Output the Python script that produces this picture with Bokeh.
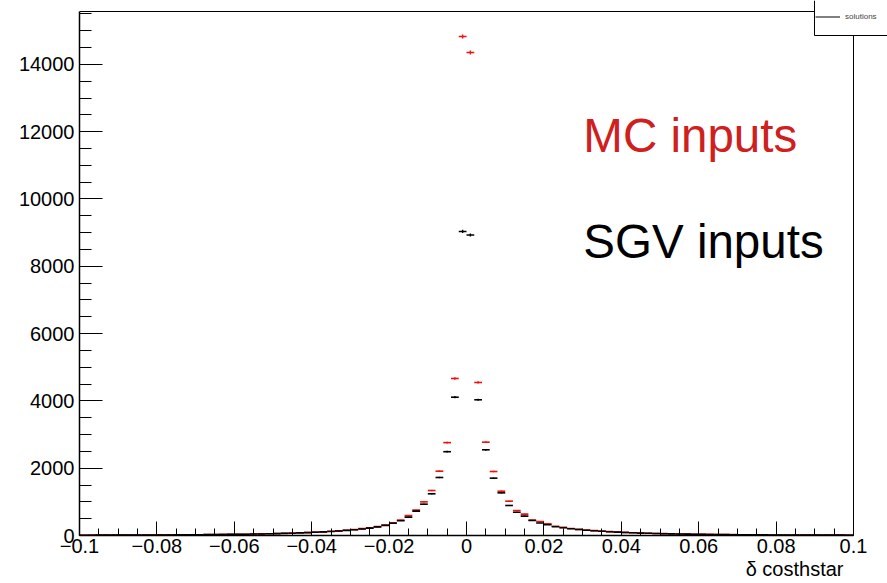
import numpy as np
from bokeh.plotting import figure
from bokeh.models import (Range1d, FixedTicker, Label, Legend, LegendItem,
                          ColumnDataSource, Title)
from bokeh.embed import file_html
from bokeh.resources import INLINE

# Histogram binning: 100 bins of width 0.002 on [-0.1, 0.1]
bin_lo, bin_hi, n_bins = -0.1, 0.1, 100

# Bin contents, left half listed from -0.099 to -0.001, right half from 0.001 to 0.099
mc_left = [9, 11, 10, 11, 13, 12, 13, 14, 15, 15, 18, 18, 20, 21, 24, 24, 27, 28, 32, 33,
           38, 39, 45, 47, 54, 58, 66, 71, 81, 87, 101, 109, 126, 137, 158, 174, 203, 226,
           265, 307, 377, 456, 594, 753, 1000, 1337, 1911, 2760, 4666, 14830]
mc_right = [14355, 4547, 2773, 1902, 1317, 1020, 743, 634, 456, 416, 347, 277, 240, 208,
            183, 162, 146, 129, 116, 103, 93, 83, 75, 68, 61, 55, 50, 46, 42, 38, 35, 32,
            30, 28, 25, 24, 22, 20, 19, 17, 16, 15, 14, 14, 13, 12, 11, 11, 10, 10]
sgv_left = [9, 9, 10, 11, 11, 12, 12, 13, 14, 15, 17, 17, 19, 20, 22, 23, 26, 27, 30, 32,
            36, 38, 43, 46, 51, 57, 63, 69, 78, 85, 97, 107, 121, 134, 152, 170, 195, 220,
            255, 300, 365, 440, 545, 723, 931, 1239, 1724, 2490, 4110, 9035]
sgv_right = [8930, 4033, 2547, 1704, 1268, 892, 693, 575, 445, 372, 320, 262, 232, 201,
             178, 157, 141, 125, 112, 100, 90, 80, 72, 66, 59, 53, 48, 44, 40, 37, 33, 31,
             29, 26, 24, 23, 21, 19, 18, 16, 15, 14, 14, 13, 12, 11, 11, 10, 10, 9]

x_ticks = [-0.1, -0.08, -0.06, -0.04, -0.02, 0.0, 0.02, 0.04, 0.06, 0.08, 0.1]
x_tick_labels = ["\u22120.1", "\u22120.08", "\u22120.06", "\u22120.04", "\u22120.02", "0",
                 "0.02", "0.04", "0.06", "0.08", "0.1"]
y_ticks = [0, 2000, 4000, 6000, 8000, 10000, 12000, 14000]

FONT = "Liberation Sans"
RED = "#f01010"

edges = np.linspace(bin_lo, bin_hi, n_bins + 1)
centers = 0.5 * (edges[:-1] + edges[1:])
mc = np.array(mc_left + mc_right, dtype=float)
sgv = np.array(sgv_left + sgv_right, dtype=float)

y_max = 1.05 * mc.max()

# Canvas geometry (pixels): the drawing box spans 79..853 horizontally and 11..535
# vertically; the plotting area is stretched to the canvas' top and right edges so the
# legend box can hang over the box corner.
W, H = 887, 583
box_left, box_right, box_top, box_bottom = 79, 853, 11, 535
x_end = bin_lo + (bin_hi - bin_lo) * (W - box_left) / (box_right - box_left)
y_end = y_max * box_bottom / (box_bottom - box_top)

# Legend box corner (left edge / bottom edge) in data units
leg_px_left, leg_px_bottom = 814, 35
leg_x = bin_lo + (leg_px_left - box_left) * (bin_hi - bin_lo) / (box_right - box_left)
leg_y = y_end * (box_bottom - leg_px_bottom) / box_bottom

p = figure(width=W, height=H, x_range=Range1d(bin_lo, x_end),
           y_range=Range1d(0, y_end), output_backend="svg", toolbar_location=None,
           title=None, min_border_left=box_left, min_border_right=0, min_border_top=0,
           min_border_bottom=H - box_bottom, background_fill_color="white",
           border_fill_color="white")
p.grid.visible = False
p.outline_line_color = None

# Top and right edges of the drawing box (stopping at the legend box), plus the
# legend box's own left and bottom edges
p.segment(x0=[bin_lo, bin_hi, leg_x, leg_x], y0=[y_max, 0, leg_y, leg_y],
          x1=[leg_x, bin_hi, leg_x, x_end], y1=[y_max, leg_y, y_end, leg_y],
          line_color="black", line_width=1)


def draw_hist(values, color):
    err = 0.5 * np.sqrt(values)
    src = ColumnDataSource(dict(
        x=centers, lo=edges[:-1], hi=edges[1:], y=values,
        ylo=values - err, yhi=values + err))
    p.segment(x0="lo", x1="hi", y0="y", y1="y", source=src, line_color=color,
              line_width=1.6)
    p.segment(x0="x", x1="x", y0="ylo", y1="yhi", source=src, line_color=color,
              line_width=1.4)


draw_hist(mc, RED)
draw_hist(sgv, "black")

# Axes in the style of a ROOT frame: ticks pointing inward
xa = p.xaxis[0]
xa.bounds = (bin_lo, bin_hi)
xa.ticker = FixedTicker(ticks=x_ticks,
                        minor_ticks=list(np.round(np.arange(bin_lo, bin_hi + 1e-9, 0.005), 3)))
xa.major_label_overrides = dict(zip(x_ticks, x_tick_labels))
xa.major_tick_in = 14
xa.major_tick_out = 0
xa.minor_tick_in = 7
xa.minor_tick_out = 0
xa.major_label_standoff = 3

ya = p.yaxis[0]
ya.bounds = (0, y_max)
ya.ticker = FixedTicker(ticks=y_ticks, minor_ticks=list(range(0, 15501, 500)))
ya.major_tick_in = 23
ya.major_tick_out = 0
ya.minor_tick_in = 12
ya.minor_tick_out = 0
ya.major_label_standoff = 5

for ax in (xa, ya):
    ax.axis_line_color = "black"
    ax.axis_line_width = 1.5
    ax.major_tick_line_color = "black"
    ax.minor_tick_line_color = "black"
    ax.major_label_text_font = FONT
    ax.major_label_text_font_size = "20px"
    ax.major_label_text_color = "black"

# Axis title, right-aligned near the end of the x axis
p.add_layout(Title(text="\u03b4 costhstar", align="right", offset=44, standoff=0,
                   text_font=FONT, text_font_size="20px", text_font_style="normal",
                   text_color="black"), "below")

# Annotations naming the two inputs
p.add_layout(Label(x=0.0302, y=0.763 * y_max, text="MC inputs", text_font=FONT,
                   text_font_size="47.5px", text_color="#cf2020",
                   text_baseline="alphabetic"))
p.add_layout(Label(x=0.0302, y=0.561 * y_max, text="SGV inputs", text_font=FONT,
                   text_font_size="47.5px", text_color="black",
                   text_baseline="alphabetic"))

# Legend entry inside the box
sample = p.line(x=[np.nan], y=[np.nan], line_color="black", line_width=1)
legend = Legend(items=[LegendItem(label="solutions", renderers=[sample])],
                location=(leg_px_left - box_left + 1, box_bottom - leg_px_bottom + 5),
                border_line_color=None, background_fill_alpha=0.0,
                padding=4, margin=0, spacing=0,
                glyph_width=25, glyph_height=27, label_height=27, label_width=40,
                label_standoff=5, label_text_font=FONT, label_text_font_size="8px")
p.add_layout(legend)

open("out.html", "w").write(file_html(p, INLINE))
